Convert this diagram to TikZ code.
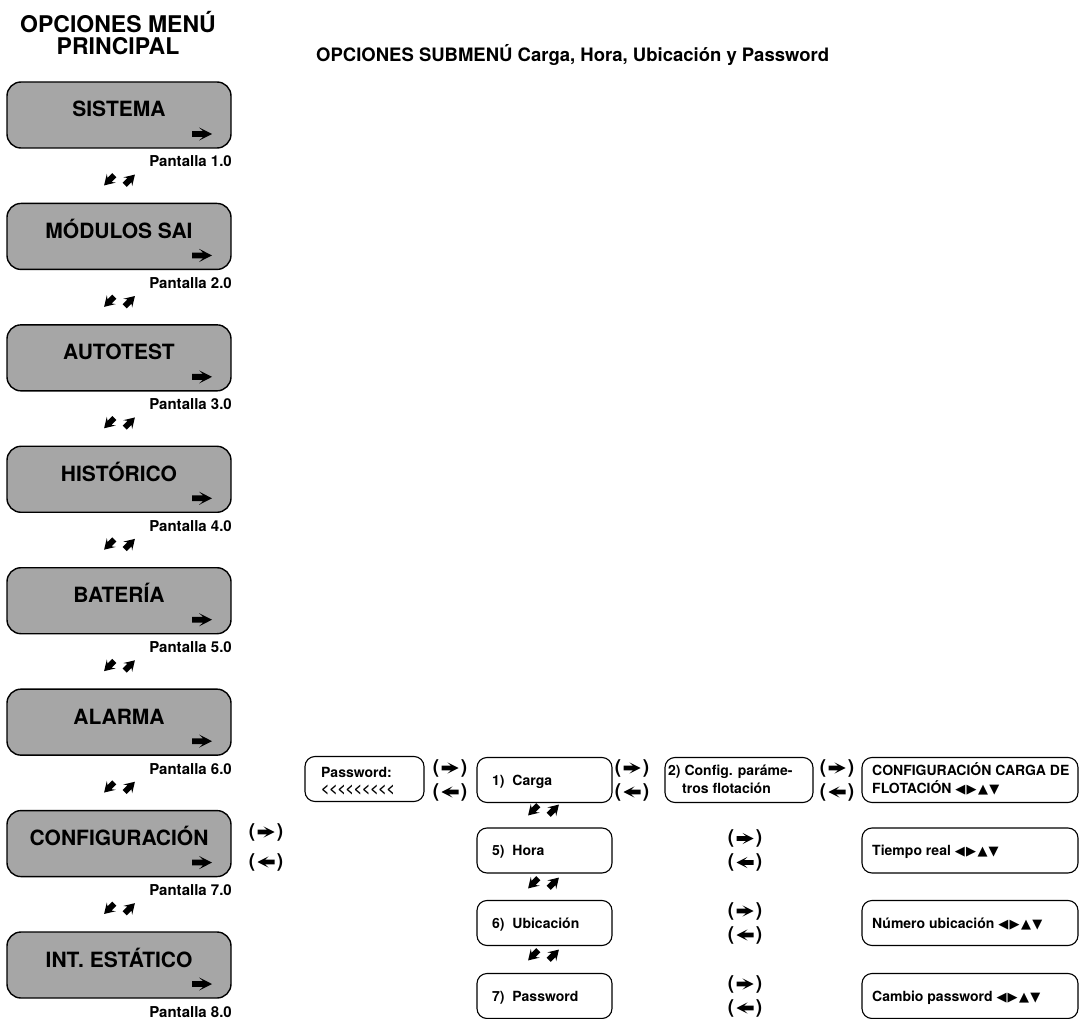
\documentclass[tikz,border=0pt]{standalone}
\usepackage{fontspec}
\setmainfont{TeX Gyre Heros}
\newfontfamily\symfont{DejaVu Sans}
\definecolor{menugray}{RGB}{166,166,166}
% cursor keys shown on the value screens
\newcommand{\keys}{{\symfont\fontsize{13}{13}\selectfont ◀\kern1.2pt▶\kern1.5pt▲\kern1.2pt▼}}
% a row of single chevrons (kerns stop the << ligature)
\newcommand{\chevrons}{<\kern0pt<\kern0pt<\kern0pt<\kern0pt<\kern0pt<\kern0pt<\kern0pt<\kern0pt<}

\begin{document}
\begin{tikzpicture}[x=1pt,y=-1pt,
  mainbox/.style={draw, line width=1.4pt, fill=menugray, rounded corners=14pt,
    minimum width=224pt, minimum height=66pt, inner sep=0pt},
  subbox/.style={draw, line width=1.1pt, fill=white, rounded corners=10pt,
    minimum height=45pt, inner sep=0pt},
  titletxt/.style={font=\fontsize{23}{23}\selectfont\bfseries, anchor=base, inner sep=0pt},
  headtxt/.style={font=\fontsize{18.5}{18.5}\selectfont\bfseries, anchor=base west, inner sep=0pt},
  boxtxt/.style={font=\fontsize{21}{21}\selectfont\bfseries, anchor=base, inner sep=0pt},
  smalltxt/.style={font=\fontsize{14}{14}\selectfont\bfseries, anchor=base west, inner sep=0pt},
  pant/.style={font=\fontsize{15}{15}\selectfont\bfseries, anchor=base east, inner sep=0pt},
  paren/.style={font=\fontsize{19}{19}\selectfont\bfseries, inner sep=0pt},
  % heavy wide-headed arrow, centred on the origin, pointing along +x
  heavyarrow/.pic={
    \fill (-10,-2.9) -- (1,-2.9) -- (-3,-6.6) -- (10,0) -- (-3,6.6) -- (1,2.9) -- (-10,2.9) -- cycle;
  },
  % stubbier variant used for the diagonal up/down pair
  stubarrow/.pic={
    \fill (-8,-3.4) -- (0,-3.4) -- (-3,-7.4) -- (9,0) -- (-3,7.4) -- (0,3.4) -- (-8,3.4) -- cycle;
  },
  navfwd/.pic={
    \node[paren] (-lp) at (-14,0) {(};
    \pic[scale=0.85] {heavyarrow};
    \node[paren] (-rp) at (14,0) {)};
  },
  navbwd/.pic={
    \node[paren] (-lp) at (-14,0) {(};
    \pic[scale=0.85, rotate=180] {heavyarrow};
    \node[paren] (-rp) at (14,0) {)};
  },
  updown/.pic={
    \pic[scale=0.85, rotate=225] at (-10,0) {stubarrow};
    \pic[scale=0.85, rotate=45] at (10,0) {stubarrow};
  }
]
\useasboundingbox (0,0) rectangle (1080,1019);

% headings
\node[titletxt] (title1) at (118,33) {OPCIONES MENÚ};
\node[titletxt] (title2) at (118,55) {PRINCIPAL};
\node[headtxt] (subtitle) at (316,62) {OPCIONES SUBMENÚ Carga, Hora, Ubicación y Password};

% main menu column
\foreach \i/\lab in {0/SISTEMA, 1/MÓDULOS SAI, 2/AUTOTEST, 3/HISTÓRICO,
                     4/BATERÍA, 5/ALARMA, 6/CONFIGURACIÓN, 7/INT. ESTÁTICO}{
  \pgfmathsetmacro\t{82+121.43*\i}
  \pgfmathtruncatemacro\n{\i+1}
  \node[mainbox] (m\i) at (119,\t+33) {};
  \node[boxtxt] (m\i-lab) at (119,\t+35) {\lab};
  \pic at (202,\t+52) {heavyarrow};
  \node[pant] (m\i-scr) at (232,\t+85) {Pantalla \n.0};
  \ifnum\i<7
    \pic at (119.5,\t+98) {updown};
  \fi
}

% entry into the configuration submenu
\pic (cfgin) at (266,832) {navfwd};
\pic (cfgout) at (266,862) {navbwd};

% password prompt
\node[subbox, minimum width=119pt] (pwd) at (364.5,779) {};
\node[smalltxt] (pwd-l1) at (321,777) {Password:};
\node[smalltxt] (pwd-l2) at (321,793) {\chevrons};

\pic (a1f) at (450,768) {navfwd};
\pic (a1b) at (450,792) {navbwd};

% submenu options
\foreach \k/\yc/\lab in {1/780/1)\ \ Carga, 2/850.5/5)\ \ Hora, 3/923/6)\ \ Ubicación, 4/996/7)\ \ Password}{
  \node[subbox, minimum width=135pt] (s\k) at (544.5,\yc) {};
  \node[smalltxt] (s\k-lab) at (492,\yc+5) {\lab};
}

\pic (a2f) at (632,768) {navfwd};
\pic (a2b) at (632,792) {navbwd};

\node[subbox, minimum width=148pt] (cfgpar) at (739,780) {};
\node[smalltxt] (cfgpar-l1) at (668,775) {2) Config. paráme-};
\node[smalltxt] (cfgpar-l2) at (682,793) {tros flotación};

\pic (a3f) at (837,768) {navfwd};
\pic (a3b) at (837,792) {navbwd};

% value screens
\foreach \k/\yc in {1/780, 2/850.5, 3/923, 4/996}{
  \node[subbox, minimum width=216pt] (v\k) at (970,\yc) {};
}
\node[smalltxt] (v1-l1) at (872,775) {CONFIGURACIÓN CARGA DE};
\node[smalltxt] (v1-l2) at (872,793) {FLOTACIÓN \keys};
\node[smalltxt] (v2-lab) at (872,855.5) {Tiempo real \keys};
\node[smalltxt] (v3-lab) at (872,928) {Número ubicación \keys};
\node[smalltxt] (v4-lab) at (872,1001) {Cambio password \keys};

% forward / back between submenu options and value screens
\foreach \k/\yc in {2/850.5, 3/923, 4/996}{
  \pic (b\k f) at (745,\yc-12) {navfwd};
  \pic (b\k b) at (745,\yc+12) {navbwd};
}

% up / down between submenu options
\foreach \yc in {810, 883, 955}{
  \pic at (543.5,\yc) {updown};
}
\end{tikzpicture}
\end{document}
